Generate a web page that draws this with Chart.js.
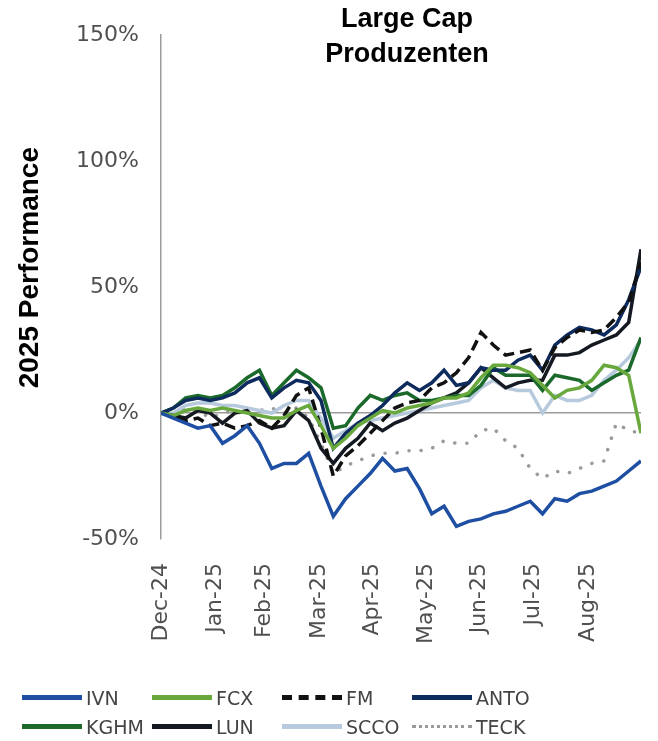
<!DOCTYPE html>
<html>
<head>
<meta charset="utf-8">
<script src="https://cdn.jsdelivr.net/npm/chart.js@4.4.1/dist/chart.umd.min.js"></script>
<style>
  body { margin: 0; background: #fff; }
  #wrap { position: relative; width: 658px; height: 741px; }
  #title {
    position: absolute; top: 1px; left: 257px; width: 300px;
    text-align: center; font: bold 27px "Liberation Sans", Arial, sans-serif;
    line-height: 35px; color: #000;
  }
  #legend {
    position: absolute; top: 686px; left: 22px;
    display: grid; grid-template-columns: repeat(4, 130px); row-gap: 6px;
    font: 19px "DejaVu Sans", sans-serif; color: #444;
  }
  .item { display: flex; align-items: center; height: 23px; white-space: nowrap; }
  .swatch { width: 60px; height: 0; margin-right: 4px; }
</style>
</head>
<body>
<div id="wrap">
  <canvas id="chart" width="658" height="741"></canvas>
  <div id="title">Large Cap<br>Produzenten</div>
  <div id="legend"></div>
</div>
<script>
// weekly closes, days since 31.12.2024 -> performance in %
const days = [
  0, 7, 14, 21, 28, 35, 42, 49, 56, 63,
  70, 77, 84, 91, 98, 105, 112, 119, 126, 133,
  140, 147, 154, 161, 168, 175, 182, 189, 196, 203,
  210, 217, 224, 231, 238, 245, 252, 259, 266, 273
];
// month ends
const tickLabels = ['Dec-24', 'Jan-25', 'Feb-25', 'Mar-25', 'Apr-25', 'May-25', 'Jun-25', 'Jul-25', 'Aug-25'];
const tickDays = [0, 31, 59, 90, 120, 151, 181, 212, 243];

const ivn  = [0, -2, -4, -6, -5, -12, -9, -5, -12, -22, -20, -20, -16, -29, -41, -34, -29, -24, -18, -23, -22, -30, -40, -37, -45, -43, -42, -40, -39, -37, -35, -40, -34, -35, -32, -31, -29, -27, -23, -19];
const fcx  = [0, -1, 1, 2, 1, 2, 1, 0, -1, -2, -2, 1, 3, -5, -14, -10, -5, -2, 1, 0, 2, 3, 4, 6, 6, 8, 14, 19, 19, 18, 16, 11, 6, 9, 10, 13, 19, 18, 15, -8];
const fm   = [0, -1, -3, -2, -5, -4, -6, -5, -3, -6, -1, 7, 10, -6, -25, -17, -13, -8, -3, 2, 4, 5, 10, 12, 16, 22, 32, 27, 23, 24, 25, 17, 26, 30, 33, 32, 33, 38, 44, 60];
const anto = [0, 2, 5, 6, 5, 6, 8, 12, 14, 6, 10, 13, 12, 5, -14, -8, -4, -1, 3, 8, 12, 9, 12, 17, 11, 12, 18, 17, 17, 21, 23, 17, 27, 31, 34, 33, 31, 35, 45, 58];
const kghm = [0, 2, 6, 7, 6, 7, 10, 14, 17, 7, 12, 17, 14, 10, -6, -5, 2, 7, 5, 7, 8, 5, 5, 6, 7, 7, 11, 18, 15, 15, 15, 9, 15, 14, 13, 9, 12, 15, 17, 30];
const lun  = [0, -1, -2, 1, 0, -4, 0, 1, -4, -6, -5, 1, -3, -14, -20, -14, -10, -4, -7, -4, -2, 1, 4, 6, 8, 12, 18, 14, 10, 12, 13, 13, 23, 23, 24, 27, 29, 31, 36, 65];
const scco = [0, 0, 3, 4, 4, 3, 3, 2, 1, 0, 3, 5, 5, -2, -10, -7, -4, -3, -2, -1, 0, 1, 2, 3, 4, 5, 10, 13, 10, 9, 9, 0, 7, 5, 5, 7, 13, 17, 22, 29];
const teck = [0, -1, 2, 1, -2, 0, 1, -1, 1, 2, 0, 2, -2, -12, -24, -21, -19, -17, -16, -16, -15, -15, -14, -11, -12, -12, -7, -6, -11, -14, -22, -26, -23, -24, -22, -20, -19, -4, -7, -8];

const tickFont = { family: '"DejaVu Sans", sans-serif', size: 22 };

function line(label, values, color, dash) {
  return {
    label,
    data: values.map((v, i) => ({ x: days[i], y: v })),
    borderColor: color, backgroundColor: color,
    borderWidth: 3.5, borderDash: dash || [],
    borderCapStyle: dash && dash[0] < 1 ? 'round' : 'butt',
    pointRadius: 0, tension: 0, fill: false
  };
}

const chart = new Chart(document.getElementById('chart'), {
  type: 'line',
  data: {
    datasets: [
      line('IVN', ivn, '#1f4fa3'),
      line('FCX', fcx, '#68a83c'),
      line('FM', fm, '#111111', [11, 6]),
      line('ANTO', anto, '#0e2b5e'),
      line('KGHM', kghm, '#1b6a2c'),
      line('LUN', lun, '#151a22'),
      line('SCCO', scco, '#b7cadd'),
      line('TECK', teck, '#9a9a9a', [0.1, 12])
    ]
  },
  options: {
    responsive: true,
    maintainAspectRatio: false,
    animation: false,
    layout: { padding: { top: 28, right: 17, left: 0, bottom: 0 } },
    plugins: {
      legend: { display: false },
      tooltip: { enabled: false }
    },
    scales: {
      x: {
        type: 'linear',
        min: days[0], max: days[days.length - 1],
        grid: { display: false },
        border: { display: false },
        afterBuildTicks: s => { s.ticks = tickDays.map(v => ({ value: v })); },
        ticks: {
          autoSkip: false, minRotation: 90, maxRotation: 90, padding: 16,
          color: '#505050', font: tickFont,
          callback: v => tickLabels[tickDays.indexOf(v)]
        },
        afterFit: s => {
          s.height = 202;
          s.paddingLeft = 0;
          s.paddingRight = 0;
        }
      },
      y: {
        min: -50, max: 150,
        ticks: {
          stepSize: 50, padding: 22, color: '#505050', font: tickFont,
          callback: v => v + '%'
        },
        grid: {
          drawTicks: false,
          color: c => c.tick && c.tick.value === 0 ? '#9c9c9c' : 'rgba(0,0,0,0)',
          lineWidth: 1.5
        },
        border: { display: true, color: '#9c9c9c', width: 1.5 },
        title: {
          display: true,
          // leading spaces lift the rotated title a little, like in the original
          text: '\u00a0\u00a0\u00a0\u00a0\u00a02025 Performance',
          color: '#000',
          font: { family: '"Liberation Sans", Arial, sans-serif', size: 28, weight: 'bold' },
          padding: { top: 13, bottom: 0 }
        },
        afterFit: s => { s.width = 161; }
      }
    }
  }
});

// HTML legend in a 4-column grid, built from the chart datasets
const legendEl = document.getElementById('legend');
chart.data.datasets.forEach(ds => {
  const item = document.createElement('div');
  item.className = 'item';
  const sw = document.createElement('span');
  sw.className = 'swatch';
  let style = 'solid', w = 5;
  if (ds.borderDash.length) {
    style = ds.borderDash[0] < 1 ? 'dotted' : 'dashed';
    if (style === 'dotted') w = 3;
  }
  sw.style.borderTop = `${w}px ${style} ${ds.borderColor}`;
  item.appendChild(sw);
  item.appendChild(document.createTextNode(ds.label));
  legendEl.appendChild(item);
});
</script>
</body>
</html>
